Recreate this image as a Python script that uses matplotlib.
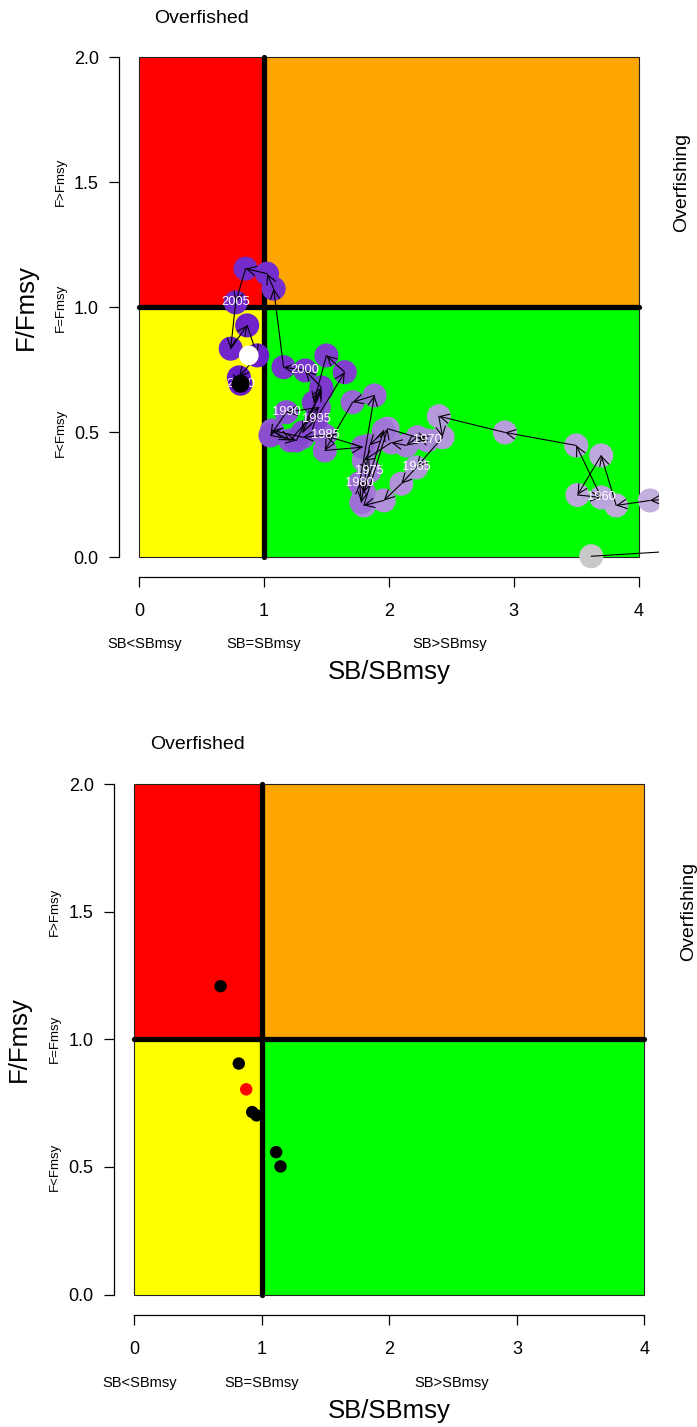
import matplotlib
matplotlib.use("Agg")
import matplotlib.pyplot as plt
import numpy as np
from matplotlib.patches import Rectangle, FancyArrowPatch
from matplotlib.colors import to_rgb

plt.rcParams['font.family'] = ['Liberation Sans', 'DejaVu Sans']

# ---------------- data: top panel trajectory ----------------
years = list(range(1953, 2011))
sb_traj = [3.62, 4.60, 4.45, 4.09, 3.82, 3.70, 3.51, 3.70, 3.50, 2.93,
           2.40, 2.43, 2.22, 2.10, 1.96, 1.80, 1.99, 2.31, 2.23, 2.14,
           2.02, 1.80, 1.845, 1.80, 1.96, 1.845, 1.78, 1.766, 1.885, 1.71,
           1.488, 1.79, 1.488, 1.31, 1.065, 1.21, 1.44, 1.18, 1.052, 1.26,
           1.46, 1.31, 1.42, 1.647, 1.50, 1.40, 1.46, 1.33, 1.157, 1.078,
           1.025, 0.853, 0.774, 0.734, 0.866, 0.946, 0.80, 0.813]
f_traj = [0.005, 0.035, 0.24, 0.228, 0.208, 0.408, 0.25, 0.24, 0.448, 0.50,
          0.565, 0.481, 0.36, 0.295, 0.228, 0.208, 0.515, 0.468, 0.481, 0.448,
          0.46, 0.388, 0.344, 0.26, 0.508, 0.448, 0.22, 0.297, 0.648, 0.621,
          0.428, 0.441, 0.488, 0.481, 0.508, 0.468, 0.60, 0.581, 0.488, 0.468,
          0.668, 0.50, 0.555, 0.741, 0.808, 0.62, 0.68, 0.748, 0.761, 1.075,
          1.135, 1.155, 1.02, 0.835, 0.928, 0.808, 0.72, 0.695]
label_years = [1960, 1965, 1970, 1975, 1980, 1985, 1990, 1995, 2000, 2005, 2010]
white_sb = [0.879]
white_f = [0.808]

# ---------------- data: bottom panel ----------------
sb_pts = [0.677, 0.820, 0.925, 0.959, 1.113, 1.147]
f_pts = [1.208, 0.905, 0.715, 0.702, 0.558, 0.502]
red_sb = [0.878]
red_f = [0.804]

xticks = [0, 1, 2, 3, 4]
yticks = [0.0, 0.5, 1.0, 1.5, 2.0]
ytick_labels = ["0.0", "0.5", "1.0", "1.5", "2.0"]

W, H = 697, 1427
fig = plt.figure(figsize=(W / 100, H / 100), dpi=100)


def px_axes(x0, x1, y_top, y_bot):
    return fig.add_axes([x0 / W, 1 - y_bot / H, (x1 - x0) / W, (y_bot - y_top) / H])


def kobe_base(ax):
    ax.set_xlim(-0.16, 4.16)
    ax.set_ylim(-0.08, 2.08)
    ax.add_patch(Rectangle((0, 1), 1, 1, facecolor='#FF0000', edgecolor='#222222', lw=0.8, zorder=1))
    ax.add_patch(Rectangle((1, 1), 3, 1, facecolor='#FFA500', edgecolor='#222222', lw=0.8, zorder=1))
    ax.add_patch(Rectangle((0, 0), 1, 1, facecolor='#FFFF00', edgecolor='#222222', lw=0.8, zorder=1))
    ax.add_patch(Rectangle((1, 0), 3, 1, facecolor='#00FF00', edgecolor='#222222', lw=0.8, zorder=1))
    ax.plot([1, 1], [0, 2], color='black', lw=3.8, solid_capstyle='round', zorder=2)
    ax.plot([0, 4], [1, 1], color='black', lw=3.8, solid_capstyle='round', zorder=2)
    for s in ['top', 'right']:
        ax.spines[s].set_visible(False)
    ax.spines['left'].set_bounds(0, 2)
    ax.spines['bottom'].set_bounds(0, 4)
    for s in ['left', 'bottom']:
        ax.spines[s].set_linewidth(0.9)
    ax.set_xticks(xticks)
    ax.set_xticklabels([str(t) for t in xticks])
    ax.set_yticks(yticks)
    ax.set_yticklabels(ytick_labels)
    ax.tick_params(axis='x', direction='out', length=7.5, width=0.9, pad=11, labelsize=13)
    ax.tick_params(axis='y', direction='out', length=7.5, width=0.9, pad=7, labelsize=13)
    ax.patch.set_visible(False)
    kw = dict(clip_on=False, ha='center', va='center')
    ax.text(0.5, 2.155, 'Overfished', fontsize=14, **kw)
    ax.text(4.345, 1.5, 'Overfishing', fontsize=14, rotation=90, **kw)
    ax.text(-0.625, 1.5, 'F>Fmsy', fontsize=9.5, rotation=90, **kw)
    ax.text(-0.625, 1.0, 'F=Fmsy', fontsize=9.5, rotation=90, **kw)
    ax.text(-0.625, 0.5, 'F<Fmsy', fontsize=9.5, rotation=90, **kw)
    ax.text(0.046, -0.346, 'SB<SBmsy', fontsize=10.5, **kw)
    ax.text(1.0, -0.346, 'SB=SBmsy', fontsize=10.5, **kw)
    ax.text(2.49, -0.346, 'SB>SBmsy', fontsize=10.5, **kw)
    ax.text(2.0, -0.456, 'SB/SBmsy', fontsize=18.5, **kw)
    ax.text(-0.905, 1.0, 'F/Fmsy', fontsize=18.5, rotation=90, **kw)


# ---------------- top panel ----------------
ax1 = px_axes(119, 658.7, 37.3, 577.5)
kobe_base(ax1)

n = len(years)
c0 = np.array(to_rgb('#C4B4DE'))
c1 = np.array(to_rgb('#6A1BC8'))
cols = [to_rgb('#C8C8C8')] + [tuple(c0 + (c1 - c0) * (i - 1) / (n - 2)) for i in range(1, n)]
ax1.scatter(sb_traj, f_traj, s=300, c=cols, edgecolors='none', zorder=3)
for i in range(n - 1):
    arr = FancyArrowPatch((sb_traj[i], f_traj[i]), (sb_traj[i + 1], f_traj[i + 1]),
                          arrowstyle='->,head_length=0.55,head_width=0.28', mutation_scale=12,
                          lw=0.8, color='black', shrinkA=0, shrinkB=0, zorder=4)
    ax1.add_patch(arr)
for yr, xv, yv in zip(years, sb_traj, f_traj):
    if yr in label_years:
        ax1.text(xv, yv, str(yr), color='white', fontsize=9.3, ha='center', va='center', zorder=5)
ax1.scatter(white_sb, white_f, s=200, color='white', edgecolors='none', zorder=6)
ax1.scatter([sb_traj[-1]], [f_traj[-1]], s=170, color='black', edgecolors='none', zorder=6)

# ---------------- bottom panel ----------------
ax2 = px_axes(113.8, 664.8, 763.6, 1315.0)
kobe_base(ax2)
ax2.scatter(sb_pts, f_pts, s=80, color='black', edgecolors='none', zorder=3)
ax2.scatter(red_sb, red_f, s=80, color='red', edgecolors='none', zorder=4)

fig.savefig('out.png', dpi=100)
